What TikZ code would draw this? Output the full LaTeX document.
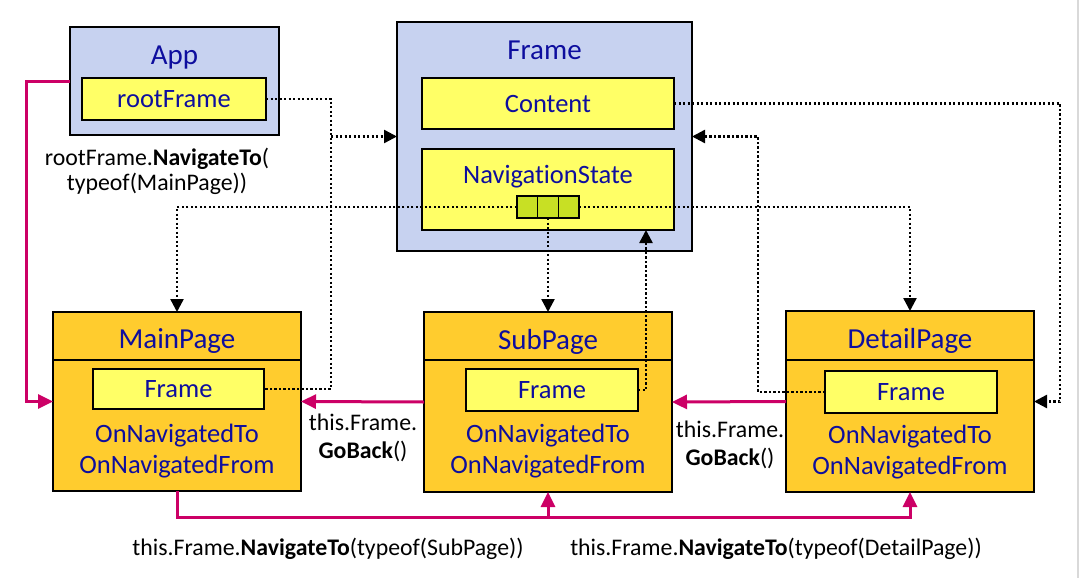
\documentclass[tikz,border=0pt]{standalone}
\usepackage{fontspec}
\setmainfont{Carlito}[Ligatures=CommonOff]
\usetikzlibrary{arrows.meta}
\definecolor{boxblue}{HTML}{C7D2F0}
\definecolor{pageor}{HTML}{FFCC2E}
\definecolor{fyel}{HTML}{FFFF66}
\definecolor{cellg}{HTML}{C8E024}
\definecolor{tblue}{HTML}{0E0E9E}
\definecolor{magc}{HTML}{CC0066}
\begin{document}
\begin{tikzpicture}[x=1pt,y=-1pt,
  box/.style={draw=black,line width=2.5pt,inner sep=0pt,outer sep=0pt},
  bluebox/.style={box,fill=boxblue},
  pagebox/.style={box,fill=pageor},
  ybox/.style={box,fill=fyel},
  cell/.style={draw=black,line width=1.5pt,fill=cellg,minimum width=20.7pt,minimum height=22pt,inner sep=0pt,outer sep=0pt},
  ttl/.style={text=tblue,font=\fontsize{29}{34}\selectfont,inner sep=0pt,text height=18.6pt,text depth=0pt},
  itx/.style={text=tblue,font=\fontsize{26.5}{31}\selectfont,inner sep=0pt,text height=17pt,text depth=0pt},
  itm/.style={text=tblue,font=\fontsize{26.5}{31}\selectfont,inner sep=0pt,align=center,anchor=base},
  lbl/.style={text=black,font=\fontsize{23.8}{25}\selectfont,inner sep=0pt,text height=15.3pt,text depth=0pt},
  lbm/.style={text=black,font=\fontsize{23.8}{25}\selectfont,inner sep=0pt,align=center,anchor=base},
  dot/.style={line width=2.4pt,dash pattern=on 2.3pt off 2.2pt,black},
  dotarr/.style={dot,-{Triangle[length=13pt,width=13pt]}},
  magl/.style={line width=3pt,magc},
  magarr/.style={magl,-{Triangle[length=15pt,width=14pt]}},
  divl/.style={line width=2pt,black},
]
\useasboundingbox (0,0) rectangle (1081,578);
\draw[line width=1.5pt,black!15] (1078,0) -- (1078,578);

% App
\node[bluebox,minimum width=209pt,minimum height=108pt] (App) at (174.5,81) {};
\node[ttl] (AppT) at (174.5,55) {App};
\node[ybox,minimum width=184pt,minimum height=42pt] (rootF) at (174,99) {};
\node[itx] (rootFT) at (174,99) {rootFrame};
\node[lbm] (navlbl) at (157,190.7) {rootFrame.\textbf{NavigateTo}(\\typeof(MainPage))};

% Frame
\node[bluebox,minimum width=295pt,minimum height=229pt] (Frame) at (544.5,136.5) {};
\node[ttl] (FrameT) at (544.5,50) {Frame};
\node[ybox,minimum width=252pt,minimum height=51pt] (Content) at (548,103.5) {};
\node[itx] (ContentT) at (548,103.5) {Content};
\node[ybox,minimum width=252pt,minimum height=81pt] (Nav) at (548,189.5) {};
\node[itx] (NavT) at (548,175) {NavigationState};

% Pages
\coordinate (dv) at (0,360);
\node[pagebox,minimum width=248pt,minimum height=179pt] (Main) at (177,401.5) {};
\node[pagebox,minimum width=248pt,minimum height=180pt] (Sub) at (548,402) {};
\node[pagebox,minimum width=248pt,minimum height=181pt] (Detail) at (910,401.5) {};
\draw[divl] (Main.west |- dv) -- (Main.east |- dv);
\draw[divl] (Sub.west |- dv) -- (Sub.east |- dv);
\draw[divl] (Detail.west |- dv) -- (Detail.east |- dv);
\node[ttl] (MainT) at (177,339) {MainPage};
\node[ttl] (SubT) at (548,340) {SubPage};
\node[ttl] (DetailT) at (910,339) {DetailPage};
\node[ybox,minimum width=171pt,minimum height=40pt] (mainF) at (178.5,389) {};
\node[itx] (mainFT) at (178.5,389) {Frame};
\node[ybox,minimum width=172pt,minimum height=42pt] (subF) at (552,390) {};
\node[itx] (subFT) at (552,390) {Frame};
\node[ybox,minimum width=172pt,minimum height=42pt] (detF) at (911,392) {};
\node[itx] (detFT) at (911,392) {Frame};
\node[itm] (mainEv) at (177,473.4) {OnNavigatedTo\\OnNavigatedFrom};
\node[itm] (subEv) at (548,473.8) {OnNavigatedTo\\OnNavigatedFrom};
\node[itm] (detEv) at (910,474.4) {OnNavigatedTo\\OnNavigatedFrom};

% dotted connectors
\coordinate (vx) at (331,300);
\coordinate (cx) at (1060,250);
\coordinate (dx) at (758,250);
\coordinate (ux) at (646,300);
\draw[dot] (rootF.east) -| (vx) |- (mainF.east);
\draw[dotarr] (vx |- Frame.west) -- (Frame.west);
\draw[dotarr] (Content.east) -| (cx) |- (Detail.east);
\draw[dotarr] (detF.west) -| (dx) |- (Frame.east);
\draw[dotarr] (subF.east) -| (ux) -- (ux |- Nav.south);

% navigation stack cells
\node[cell] (c2) at (548,207) {};
\node[cell,anchor=east] (c1) at (c2.west) {};
\node[cell,anchor=west] (c3) at (c2.east) {};
\draw[dotarr] (c1.west) -| (Main.north);
\draw[dotarr] (c3.east) -| (Detail.north);
\draw[dotarr] (c2.south) -- (Sub.north);
\node[cell] at (548,207) {};
\node[cell,anchor=east] at (c2.west) {};
\node[cell,anchor=west] at (c2.east) {};

% magenta connectors
\coordinate (lx) at (26,200);
\coordinate (bot) at (910,517);
\draw[magarr] (App.west) -| (lx) |- (Main.west);
\draw[magarr] (Sub.west) -- (Main.east);
\draw[magarr] (Detail.west) -- (Sub.east);
\draw[magarr] (Main.south) |- (bot) -- (Detail.south);
\draw[magarr] (Sub.south |- bot) -- (Sub.south);

% labels
\node[lbm] (gb1) at (363,458.7) {this.Frame.\\[3pt]\textbf{GoBack}()};
\node[lbm] (gb2) at (730,465.7) {this.Frame.\\[3pt]\textbf{GoBack}()};
\node[lbl] (nt1) at (328,548) {this.Frame.\textbf{NavigateTo}(typeof(SubPage))};
\node[lbl] (nt2) at (776,548) {this.Frame.\textbf{NavigateTo}(typeof(DetailPage))};
\end{tikzpicture}
\end{document}
